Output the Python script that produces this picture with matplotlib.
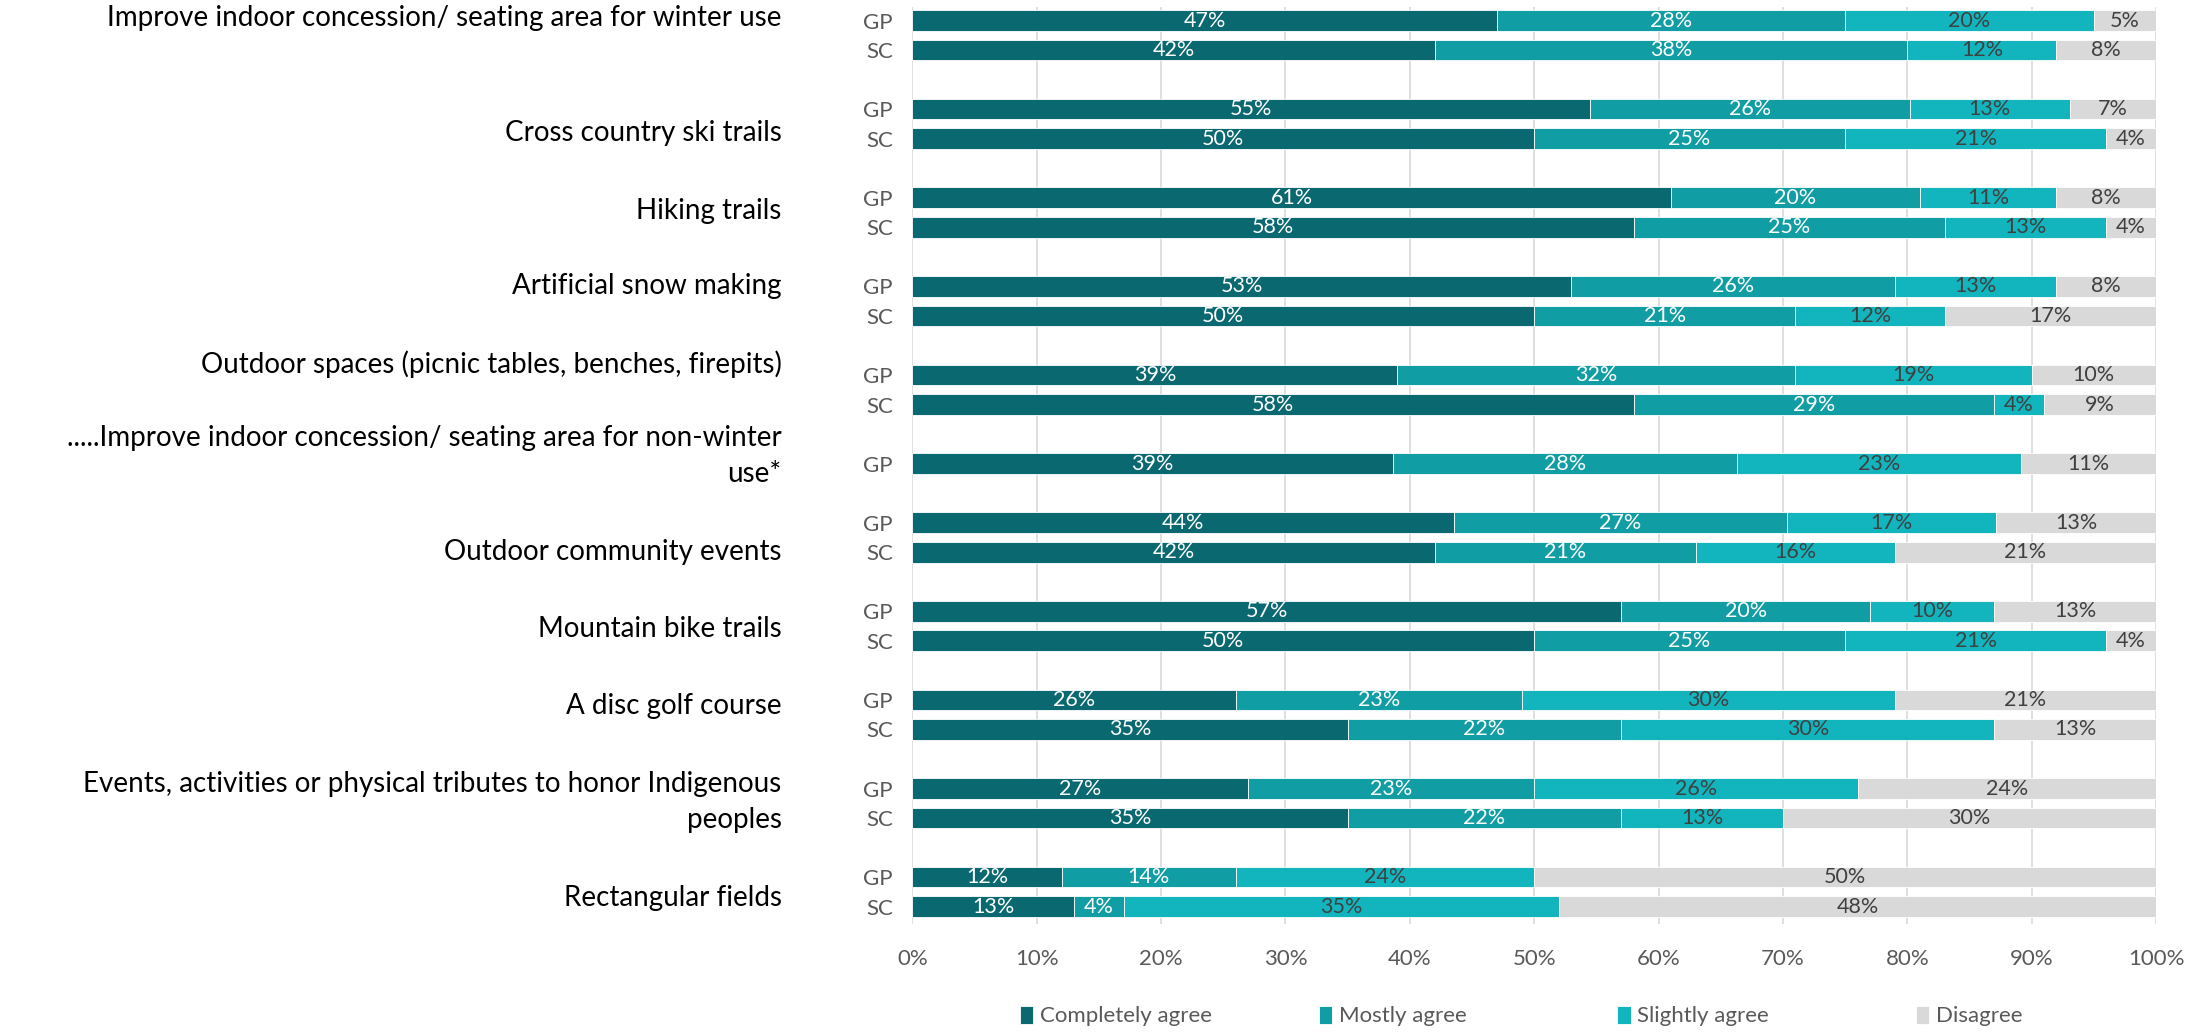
import matplotlib.pyplot as plt
import matplotlib.transforms as mtransforms
import numpy as np

# ------------------------------------------------------------------
# DATA
# ------------------------------------------------------------------
CATEGORIES = [
    "Improve indoor concession/ seating area for winter use",
    "Cross country ski trails",
    "Hiking trails",
    "Artificial snow making",
    "Outdoor spaces (picnic tables, benches, firepits)",
    ".....Improve indoor concession/ seating area for non-winter\nuse*",
    "Outdoor community events",
    "Mountain bike trails",
    "A disc golf course",
    "Events, activities or physical tributes to honor Indigenous\npeoples",
    "Rectangular fields",
]
LEVELS = ["Completely agree", "Mostly agree", "Slightly agree", "Disagree"]

GP_VALUES = [
    [47, 28, 20, 5],
    [55, 26, 13, 7],
    [61, 20, 11, 8],
    [53, 26, 13, 8],
    [39, 32, 19, 10],
    [39, 28, 23, 11],
    [44, 27, 17, 13],
    [57, 20, 10, 13],
    [26, 23, 30, 21],
    [27, 23, 26, 24],
    [12, 14, 24, 50],
]
SC_VALUES = [
    [42, 38, 12, 8],
    [50, 25, 21, 4],
    [58, 25, 13, 4],
    [50, 21, 12, 17],
    [58, 29, 4, 9],
    None,
    [42, 21, 16, 21],
    [50, 25, 21, 4],
    [35, 22, 30, 13],
    [35, 22, 13, 30],
    [13, 4, 35, 48],
]

# ------------------------------------------------------------------
# STYLE
# ------------------------------------------------------------------
COLORS = ["#0A6870", "#119DA4", "#12B5BE", "#D9D9D9"]
TEXT_COLORS = ["white", "white", "#404040", "#404040"]
# vertical offset (in row units) of each category label from its GP row
LABEL_OFFSET = [-0.1, 0.8, 0.45, 0.0, -0.35, -0.25, 1.0, 0.6, 0.2, 0.45, 0.7]
LEGEND_X0 = 0.4618
LEGEND_STEP = 0.1352

plt.rcParams["font.family"] = ["Lato", "DejaVu Sans"]

# build the row layout: GP, SC, blank gap
rows = []
label_y = []
slot = 0
for idx, (gp, sc) in enumerate(zip(GP_VALUES, SC_VALUES)):
    label_y.append(slot + LABEL_OFFSET[idx])
    rows.append((slot, "GP", gp))
    slot += 1
    if sc is not None:
        rows.append((slot, "SC", sc))
        slot += 1
    slot += 1
last_row = rows[-1][0]

fig = plt.figure(figsize=(22.09, 10.33), dpi=100)
ax = fig.add_axes([0.413, 0.106, 0.563, 0.887])

ypos = np.array([r[0] for r in rows])
vals = np.array([r[2] for r in rows], dtype=float)
shares = vals / vals.sum(axis=1, keepdims=True) * 100
left = np.zeros(len(rows))
handles = []
for k, level in enumerate(LEVELS):
    bars = ax.barh(ypos, shares[:, k], left=left, height=0.7, color=COLORS[k],
                   edgecolor="white", linewidth=0.6, label=level, zorder=3)
    handles.append(bars)
    for y, l, w, v in zip(ypos, left, shares[:, k], vals[:, k]):
        ax.text(l + w / 2, y, f"{int(v)}%", ha="center", va="center",
                color=TEXT_COLORS[k], fontsize=15.5, zorder=4)
    left += shares[:, k]

ax.set_xlim(0, 100)
ax.set_ylim(last_row + 0.57, -0.45)
ax.set_xticks(np.arange(0, 101, 10))
ax.set_xticklabels([f"{t}%" for t in range(0, 101, 10)])
ax.set_yticks(ypos)
ax.set_yticklabels([r[1] for r in rows])
ax.tick_params(axis="y", length=0, pad=14, labelsize=16, labelcolor="#595959")
ax.tick_params(axis="x", length=0, pad=18, labelsize=16, labelcolor="#595959")
ax.grid(axis="x", color="#D9D9D9", linewidth=1.2, zorder=0)
for sp in ax.spines.values():
    sp.set_visible(False)

trans = mtransforms.blended_transform_factory(ax.transAxes, ax.transData)
for cat, y in zip(CATEGORIES, label_y):
    ax.text(-0.105, y, cat, transform=trans, ha="right", va="center",
            fontsize=20, color="black", linespacing=1.45)

# legend entries on an even grid, like the original
for k, (h, level) in enumerate(zip(handles, LEVELS)):
    leg = fig.legend([h], [level], loc="center left",
                     bbox_to_anchor=(LEGEND_X0 + k * LEGEND_STEP, 0.0165),
                     frameon=False, fontsize=16, handlelength=0.6, handleheight=0.9,
                     handletextpad=0.3, borderpad=0, borderaxespad=0,
                     labelcolor="#595959")

fig.savefig("out.png", dpi=100)
